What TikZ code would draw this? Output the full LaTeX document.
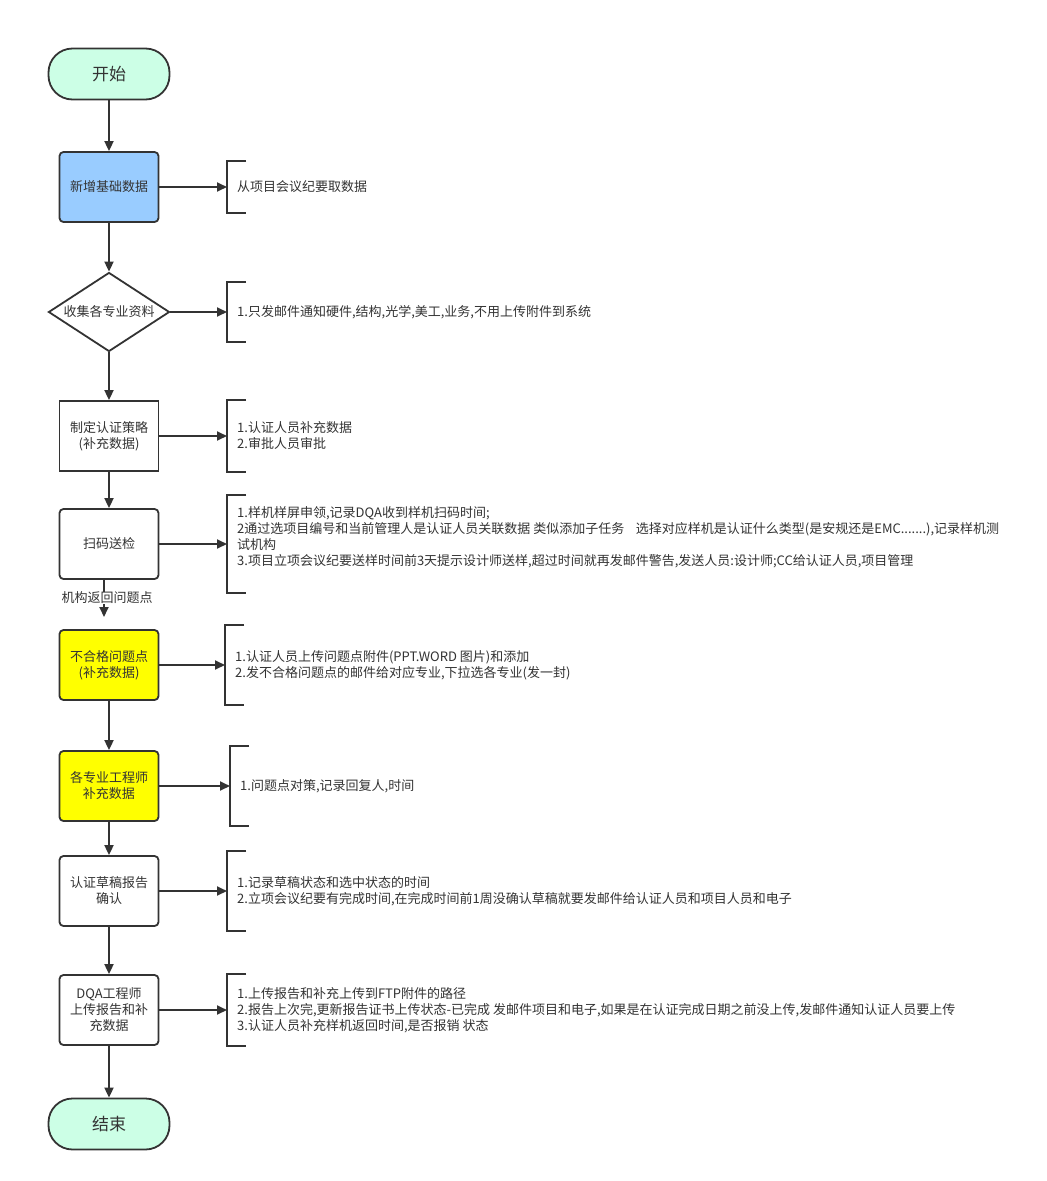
\documentclass[tikz,border=0pt]{standalone}
\usepackage{fontspec}
\setmainfont{Noto Sans CJK SC}
\usetikzlibrary{shapes.geometric,arrows.meta}
\definecolor{ink}{HTML}{333333}
\definecolor{mint}{RGB}{204,255,230}
\definecolor{skyblue}{RGB}{153,204,255}
\definecolor{hilite}{RGB}{255,255,0}
\begin{document}
\begin{tikzpicture}[x=1pt,y=-1pt,
  txt/.style={text=ink,font=\fontsize{13}{16}\selectfont},
  base/.style={txt,draw=ink,line width=1.8pt,align=center,inner sep=0pt},
  proc/.style={base,rectangle,rounded corners=4pt,minimum width=99pt,minimum height=70pt},
  term/.style={base,rectangle,rounded corners=24pt,minimum width=121pt,minimum height=51pt,
    fill=mint,font=\fontsize{17}{20}\selectfont},
  decide/.style={base,diamond,shape aspect=1.525,minimum width=121pt,minimum height=79pt},
  note/.style={txt,anchor=west,align=left,inner xsep=10pt,inner ysep=0pt},
  link/.style={draw=ink,line width=1.8pt},
  flow/.style={link,-{Triangle[length=10pt,width=9pt]}},
  brk/.style={draw=ink,line width=1.8pt}]
\useasboundingbox[fill=white] (0,0) rectangle (1047,1181);

% main process column
\node[term] (start) at (109,74) {开始};
\node[proc,fill=skyblue] (base) at (109,187) {新增基础数据};
\node[decide] (collect) at (109,312) {收集各专业资料};
\node[proc,sharp corners] (plan) at (109,436) {制定认证策略\\(补充数据)};
\node[proc] (scan) at (109,544) {扫码送检};
\node[proc,fill=hilite] (fail) at (109,665) {不合格问题点\\(补充数据)};
\node[proc,fill=hilite] (eng) at (109,786) {各专业工程师\\补充数据};
\node[proc] (draft) at (109,891) {认证草稿报告\\确认};
\node[proc] (dqa) at (109,1010) {DQA工程师\\上传报告和补\\充数据};
\node[term] (end) at (109,1124) {结束};

% annotations
\node[note,minimum height=51pt] (a1) at (227,187) {从项目会议纪要取数据};
\node[note,minimum height=60pt] (a2) at (227,312) {1.只发邮件通知硬件,结构,光学,美工,业务,不用上传附件到系统};
\node[note,minimum height=71pt] (a3) at (227,436) {1.认证人员补充数据\\2.审批人员审批};
\node[note,minimum height=98pt] (a4) at (227,544) {1.样机样屏申领,记录DQA收到样机扫码时间;\\
  2通过选项目编号和当前管理人是认证人员关联数据 类似添加子任务\ \ \ \ 选择对应样机是认证什么类型(是安规还是EMC.......),记录样机测\\
  试机构\\
  3.项目立项会议纪要送样时间前3天提示设计师送样,超过时间就再发邮件警告,发送人员:设计师;CC给认证人员,项目管理\\ \mbox{}};
\node[note,minimum height=80pt] (a5) at (225,665) {1.认证人员上传问题点附件(PPT.WORD 图片)和添加\\2.发不合格问题点的邮件给对应专业,下拉选各专业(发一封)};
\node[note,minimum height=80pt] (a6) at (230,786) {1.问题点对策,记录回复人,时间};
\node[note,minimum height=80pt] (a7) at (227,891) {1.记录草稿状态和选中状态的时间\\2.立项会议纪要有完成时间,在完成时间前1周没确认草稿就要发邮件给认证人员和项目人员和电子};
\node[note,minimum height=71pt] (a8) at (227,1010) {1.上传报告和补充上传到FTP附件的路径\\2.报告上次完,更新报告证书上传状态-已完成 发邮件项目和电子,如果是在认证完成日期之前没上传,发邮件通知认证人员要上传\\3.认证人员补充样机返回时间,是否报销 状态};

% brackets around annotations
\foreach \n in {a1,a2,a3,a4,a5,a6,a7,a8}
  \draw[brk] ([xshift=19pt]\n.north west) -| (\n.south west) -- ([xshift=19pt]\n.south west);

% main flow
\draw[flow] (start) -- (base);
\draw[flow] (base) -- (collect);
\draw[flow] (collect) -- (plan);
\draw[flow] (plan) -- (scan);
\draw[flow] (fail) -- (eng);
\draw[flow] (eng) -- (draft);
\draw[flow] (draft) -- (dqa);
\draw[flow] (dqa) -- (end);

% returned issues
\coordinate (back) at (104,617);
\node[txt,inner sep=0pt] (ret) at (107,598) {机构返回问题点};
\draw[link] (scan.south -| back) -- (ret.north -| back);
\draw[flow] (ret.south -| back) -- (back);

% side arrows to annotations
\draw[flow] (base.east) -- (a1.west);
\draw[flow] (collect.east) -- (a2.west);
\draw[flow] (plan.east) -- (a3.west);
\draw[flow] (scan.east) -- (a4.west);
\draw[flow] (fail.east) -- (a5.west);
\draw[flow] (eng.east) -- (a6.west);
\draw[flow] (draft.east) -- (a7.west);
\draw[flow] (dqa.east) -- (a8.west);
\end{tikzpicture}
\end{document}
